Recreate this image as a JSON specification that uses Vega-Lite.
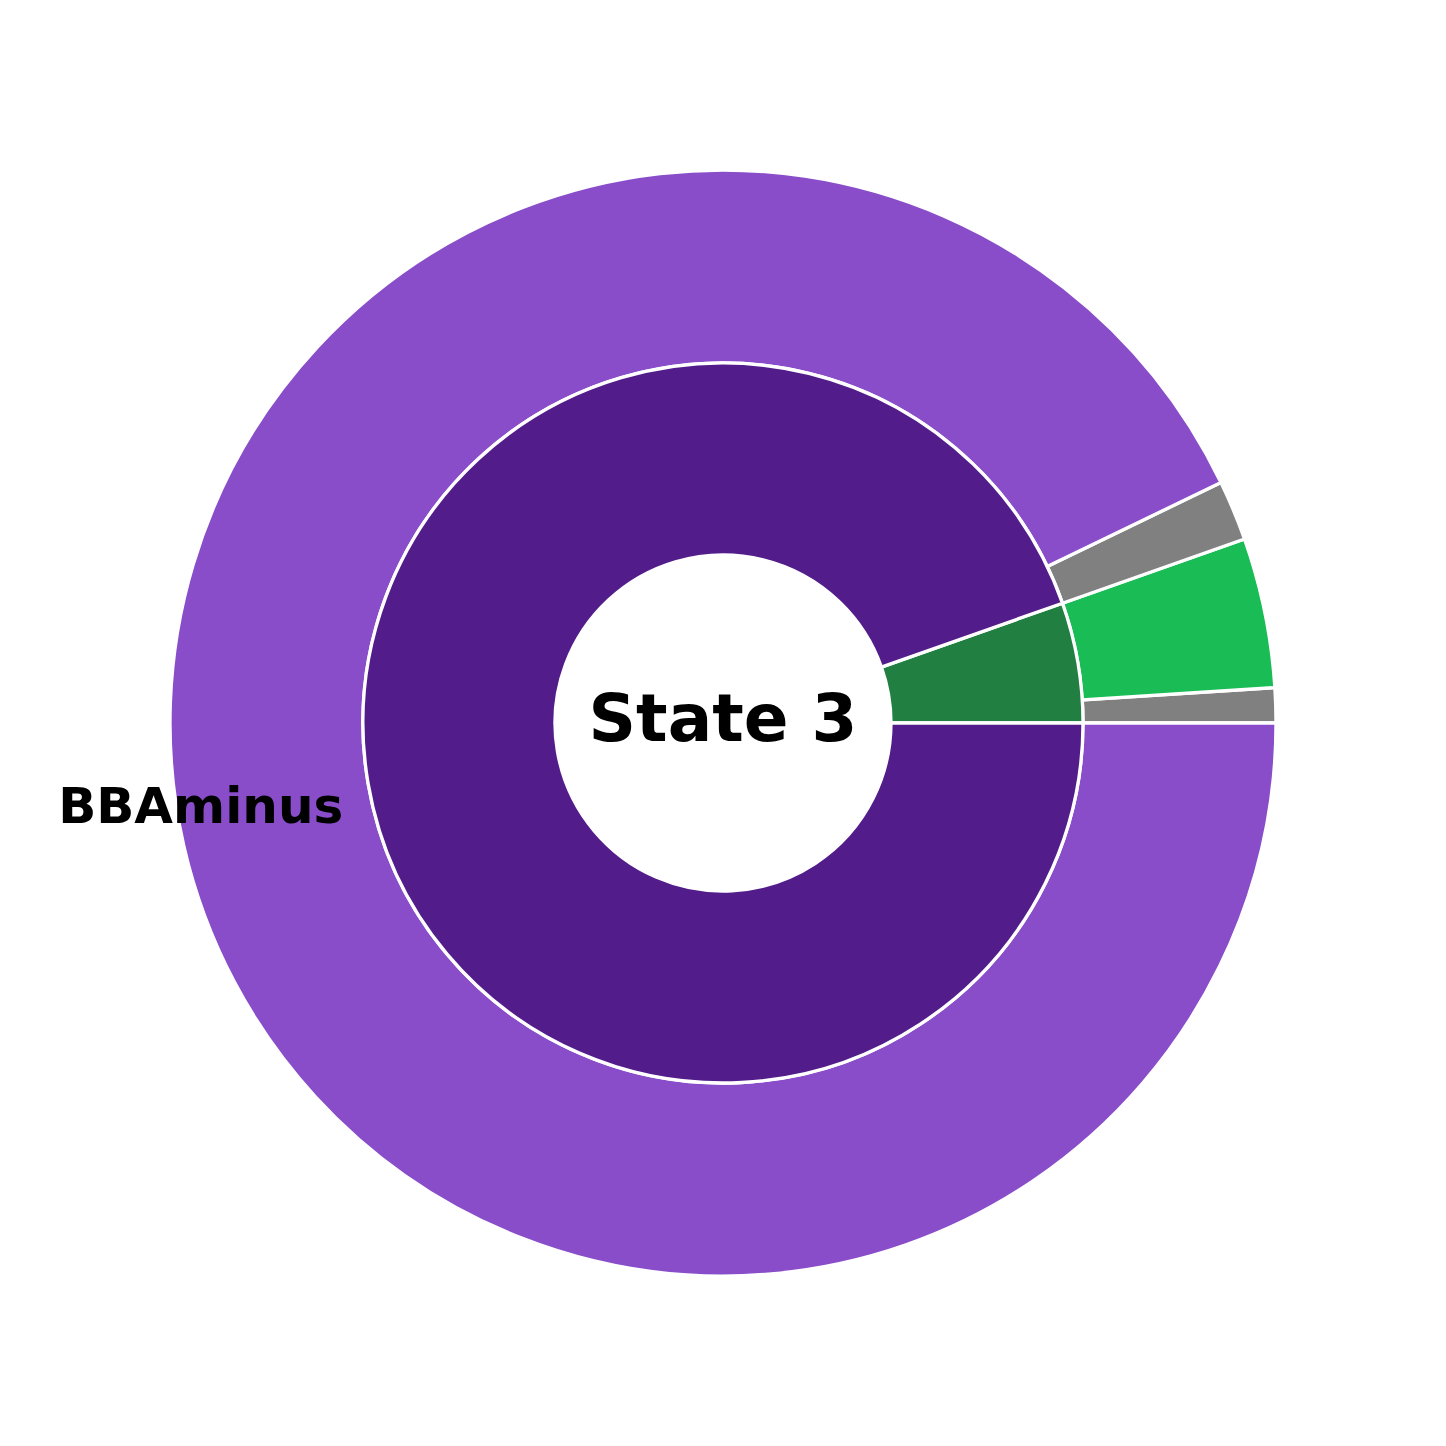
{
  "$schema": "https://vega.github.io/schema/vega-lite/v6.json",
  "width": 1446,
  "height": 1446,
  "autosize": {"type": "fit", "contains": "padding"},
  "padding": 0,
  "background": "white",
  "view": {"stroke": null},
  "datasets": {
    "inner": [
      {"segment": "BBAminus (state)", "idx": 0, "share": 0.054, "ring": "inner"},
      {"segment": "BBAminus", "idx": 1, "share": 0.946, "ring": "inner"}
    ],
    "outer": [
      {"segment": "other a", "idx": 0, "share": 0.0102, "ring": "outer"},
      {"segment": "match", "idx": 1, "share": 0.0438, "ring": "outer"},
      {"segment": "other b", "idx": 2, "share": 0.0176, "ring": "outer"},
      {"segment": "BBAminus outer", "idx": 3, "share": 0.9284, "ring": "outer"}
    ],
    "labels": [
      {"label": "BBAminus", "pos": 0.5348}
    ],
    "title": [
      {"label": "State 3"}
    ]
  },
  "resolve": {"scale": {"color": "shared"}},
  "layer": [
    {
      "data": {"name": "outer"},
      "mark": {"type": "arc", "outerRadius": 553, "innerRadius": 360, "stroke": "white", "strokeWidth": 3.3},
      "encoding": {
        "theta": {"field": "share", "type": "quantitative", "stack": true, "scale": {"domain": [0, 1], "range": [1.5707963, -4.7123890]}},
        "order": {"field": "idx", "type": "quantitative"},
        "color": {
          "field": "segment", "type": "nominal", "legend": null,
          "scale": {
            "domain": ["BBAminus (state)", "BBAminus", "other a", "match", "other b", "BBAminus outer"],
            "range": ["#207f41", "#521d8a", "#808080", "#1abc55", "#808080", "#894dca"]
          }
        }
      }
    },
    {
      "data": {"name": "inner"},
      "mark": {"type": "arc", "outerRadius": 360, "innerRadius": 168, "stroke": "white", "strokeWidth": 3.3},
      "encoding": {
        "theta": {"field": "share", "type": "quantitative", "stack": true},
        "order": {"field": "idx", "type": "quantitative"},
        "color": {"field": "segment", "type": "nominal", "legend": null}
      }
    },
    {
      "data": {"name": "labels"},
      "mark": {"type": "text", "radius": 389, "align": "right", "baseline": "middle", "font": "DejaVu Sans", "fontWeight": "bold", "fontSize": 50, "color": "black", "dy": 1},
      "encoding": {
        "theta": {"field": "pos", "type": "quantitative", "stack": null},
        "text": {"field": "label", "type": "nominal"}
      }
    },
    {
      "data": {"name": "title"},
      "mark": {"type": "text", "align": "center", "baseline": "middle", "font": "DejaVu Sans", "fontWeight": "bold", "fontSize": 66, "color": "black", "dy": -2},
      "encoding": {
        "text": {"field": "label", "type": "nominal"}
      }
    }
  ]
}
